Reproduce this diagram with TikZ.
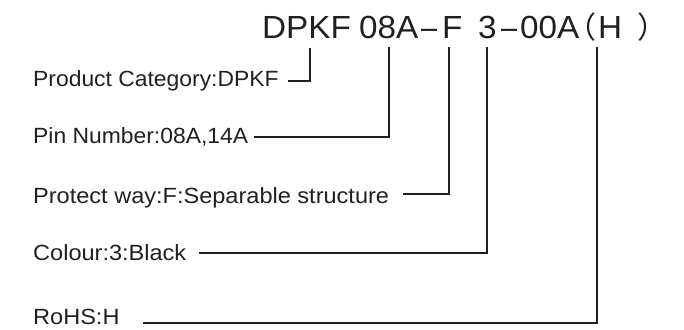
\documentclass[tikz,border=0pt]{standalone}
\usepackage{fontspec}
\usepackage{graphicx}
\setmainfont{Liberation Sans}
\newfontfamily\cjk{Noto Sans CJK SC}
\definecolor{ink}{HTML}{231F20}
\begin{document}
\begin{tikzpicture}[x=1pt,y=-1pt,
  ttl/.style={anchor=base west,inner sep=0pt,text=ink,font=\fontsize{32}{36}\selectfont},
  lbl/.style={anchor=base west,inner sep=0pt,text=ink,font=\fontsize{22}{26}\selectfont},
  conn/.style={draw=ink,line width=1.3pt}]
\useasboundingbox (0,0) rectangle (684,329);
% title segments
\node[ttl] (t1) at (262,38) {\scalebox{1.04}[1]{DPKF}};
\node[ttl] (t2) at (359,38) {\scalebox{1.04}[1]{08A}};
\node[ttl] (t3) at (421,38) {\scalebox{0.9}[1]{–}};
\node[ttl] (t4) at (442,38) {\scalebox{1.04}[1]{F}};
\node[ttl] (t5) at (478,38) {\scalebox{1.04}[1]{3}};
\node[ttl] (t6) at (501,38) {\scalebox{0.9}[1]{–}};
\node[ttl] (t7) at (520,38) {\scalebox{1.04}[1]{00A}};
\node[ttl,font=\cjk\fontsize{30}{34}\selectfont] (t8) at (566,38) {（};
\node[ttl] (t9) at (598,38) {\scalebox{1.04}[1]{H}};
\node[ttl,font=\cjk\fontsize{30}{34}\selectfont] (t10) at (637,38) {）};
% labels
\node[lbl] (l1) at (33,86) {\scalebox{1.04}[1]{Product Category:DPKF}};
\node[lbl] (l2) at (33,143) {\scalebox{1.04}[1]{Pin Number:08A,14A}};
\node[lbl] (l3) at (33,203) {\scalebox{1.07}[1]{Protect way:F:Separable structure}};
\node[lbl] (l4) at (33,260) {\scalebox{1.07}[1]{Colour:3:Black}};
\node[lbl] (l5) at (33,324) {\scalebox{1.07}[1]{RoHS:H}};
% connector ends
\coordinate (s1) at (288,81);  \coordinate (e1) at (310,48);
\coordinate (s2) at (254,137); \coordinate (e2) at (389,47);
\coordinate (s3) at (403,194); \coordinate (e3) at (449,47);
\coordinate (s4) at (199,253); \coordinate (e4) at (487,47);
\coordinate (s5) at (143,323); \coordinate (e5) at (597,47);
\draw[conn] (s1) -| (e1);
\draw[conn] (s2) -| (e2);
\draw[conn] (s3) -| (e3);
\draw[conn] (s4) -| (e4);
\draw[conn] (s5) -| (e5);
\end{tikzpicture}
\end{document}
